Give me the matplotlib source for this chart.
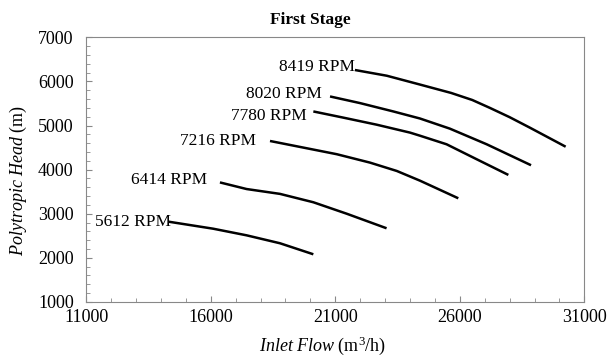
import numpy as np
import matplotlib.pyplot as plt
from matplotlib.ticker import MultipleLocator

# Speed lines
speeds = ['8419 RPM', '8020 RPM', '7780 RPM', '7216 RPM', '6414 RPM', '5612 RPM']

flow_8419 = [21790, 23070, 24400, 25650, 26500, 27210, 28000, 28820, 30250]
head_8419 = [6260, 6130, 5930, 5740, 5580, 5400, 5190, 4950, 4520]

flow_8020 = [20790, 21990, 23330, 24400, 25600, 27080, 28860]
head_8020 = [5660, 5510, 5320, 5160, 4930, 4575, 4100]

flow_7780 = [20120, 21320, 22660, 24000, 24400, 25470, 26680, 27950]
head_7780 = [5320, 5180, 5020, 4840, 4770, 4575, 4235, 3880]

flow_7216 = [18380, 19720, 21060, 22390, 23470, 24400, 25940]
head_7216 = [4650, 4500, 4350, 4160, 3970, 3750, 3350]

flow_6414 = [16370, 17440, 18780, 20120, 21460, 23060]
head_6414 = [3710, 3560, 3450, 3260, 3000, 2670]

flow_5612 = [14300, 16100, 17440, 18780, 20120]
head_5612 = [2820, 2660, 2510, 2330, 2080]

flows = [flow_8419, flow_8020, flow_7780, flow_7216, flow_6414, flow_5612]
heads = [head_8419, head_8020, head_7780, head_7216, head_6414, head_5612]

# label nudges (points) from the start of each line
label_dx = [0, -6, -5, -10, -9, 2]
label_dy = [2, 1.5, -3, 0, 1.5, 0]

plt.rcParams['font.family'] = ['Liberation Serif', 'DejaVu Serif']
plt.rcParams['mathtext.fontset'] = 'custom'
plt.rcParams['mathtext.rm'] = 'Liberation Serif'
plt.rcParams['mathtext.it'] = 'Liberation Serif:italic'

fig = plt.figure(figsize=(6.09, 3.56), dpi=100)
ax = fig.add_axes([0.1415, 0.152, 0.818, 0.743])

for name, x, y, dx, dy in zip(speeds, flows, heads, label_dx, label_dy):
    ax.plot(x, y, color='black', lw=1.8, solid_capstyle='butt', solid_joinstyle='round')
    ax.annotate(name, (x[0], y[0]), xytext=(dx, dy), textcoords='offset points',
                ha='right', va='center', fontsize=12.5)

ax.set_xlim(11000, 31000)
ax.set_ylim(1000, 7000)
ax.set_xticks(np.arange(11000, 31001, 5000))
ax.xaxis.set_minor_locator(MultipleLocator(1000))
ax.yaxis.set_major_locator(MultipleLocator(1000))
ax.yaxis.set_minor_locator(MultipleLocator(200))
ax.tick_params(which='both', direction='in', color='#888888', labelsize=13)
ax.tick_params(which='major', length=4)
ax.tick_params(which='minor', length=3)
ax.tick_params(axis='x', pad=5)
ax.tick_params(axis='y', pad=9)
for s in ax.spines.values():
    s.set_color('#888888')

fig.text(0.51, 1 - 20 / 356, 'First Stage', fontsize=12.5, fontweight='bold',
         ha='center', va='center')
fig.text(0.53, 1 - 346 / 356, r'$\mathit{Inlet\ Flow}$ (m$^3$/h)', fontsize=13,
         ha='center', va='center')
fig.text(0.03, 1 - 180 / 356, r'$\mathit{Polytropic\ Head}$ (m)', fontsize=13,
         ha='center', va='center', rotation=90)

fig.savefig('out.png', dpi=100)
